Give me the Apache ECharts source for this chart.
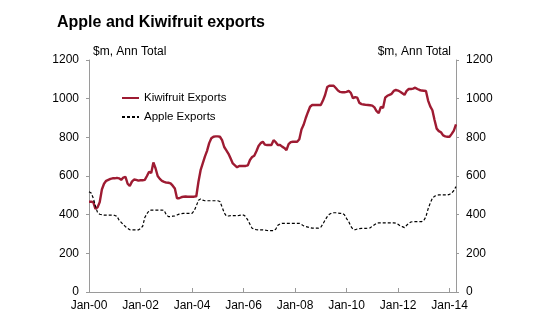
<!DOCTYPE html>
<html>
<head>
<meta charset="utf-8">
<script src="https://cdn.jsdelivr.net/npm/echarts@6/dist/echarts.min.js"></script>
<style>html,body{margin:0;padding:0;background:#fff;}#c{width:550px;height:325px;}</style>
</head>
<body>
<div id="c"></div>
<script>
// Monthly categories Jan-00 .. Apr-14
const monthNames = ['Jan','Feb','Mar','Apr','May','Jun','Jul','Aug','Sep','Oct','Nov','Dec'];
const categories = [];
for (let y = 2000; y <= 2014; y++) {
  for (let m = 0; m < 12; m++) {
    if (y === 2014 && m > 3) break;
    categories.push(monthNames[m] + '-' + String(y % 100).padStart(2, '0'));
  }
}

const kiwifruit = [
 467,467,465,430,438,465,530,560,575,580,585,588,
 588,590,588,580,592,596,560,548,571,582,580,576,
 578,578,580,600,622,615,670,640,600,585,575,570,
 566,565,562,550,535,485,485,490,493,494,493,493,
 493,493,495,570,630,665,700,730,770,795,803,805,
 805,803,785,750,733,715,690,665,655,645,652,652,
 652,652,655,683,698,705,728,755,770,777,762,760,
 760,760,785,775,760,760,752,745,734,765,775,777,
 777,777,790,840,865,900,930,958,967,967,967,967,
 967,990,1019,1060,1067,1067,1067,1055,1042,1035,1033,1033,
 1035,1040,1030,1002,1008,1005,978,972,970,968,967,966,
 964,955,935,925,958,952,1005,1015,1020,1025,1040,1045,
 1042,1036,1028,1020,1040,1050,1050,1052,1057,1050,1045,1042,
 1041,1040,990,960,940,890,845,832,826,810,805,803,
 803,818,835,867
];

const apple = [
 519,512,485,445,410,402,400,398,398,398,398,398,
 396,392,372,360,348,338,330,322,321,321,321,321,
 328,340,385,405,420,424,424,424,424,424,424,422,
 400,390,390,392,393,398,403,405,407,407,407,407,
 407,420,445,475,481,475,472,472,472,472,472,472,
 472,468,440,410,393,393,395,395,395,395,396,398,
 398,390,372,350,330,325,322,321,321,321,320,318,
 317,317,317,325,345,352,355,355,355,355,355,355,
 355,355,355,350,342,338,336,333,330,330,330,330,
 335,352,372,390,402,408,410,410,408,407,407,400,
 380,364,340,325,322,326,328,329,329,329,330,332,
 340,348,355,358,358,358,358,358,358,358,358,356,
 350,342,338,333,345,355,362,364,364,364,364,364,
 370,390,430,460,485,495,500,502,502,502,502,502,
 505,512,525,545
];

const yTicks = { min: 0, max: 1200, interval: 200 };
const axisName = '$m, Ann Total';

const FONT = 'Liberation Sans, Arial, sans-serif';
const axisColor = '#9a9a9a';

const chart = echarts.init(document.getElementById('c'), null, { renderer: 'canvas' });
const yAxisCommon = {
  type: 'value',
  min: yTicks.min, max: yTicks.max, interval: yTicks.interval,
  splitLine: { show: false },
  axisLine: { show: true, lineStyle: { color: axisColor, width: 1 } },
  axisTick: { show: true, length: 3, lineStyle: { color: axisColor } },
  axisLabel: { color: '#000', fontSize: 12, fontFamily: FONT, margin: 10, formatter: (v) => String(v) },
  name: axisName,
  nameLocation: 'end',
  nameGap: 8,
};
chart.setOption({
  animation: false,
  backgroundColor: '#fff',
  title: {
    text: 'Apple and Kiwifruit exports',
    left: 52, top: 10,
    textStyle: { fontSize: 16, fontWeight: 'bold', color: '#000', fontFamily: FONT }
  },
  legend: {
    orient: 'vertical',
    left: 116, top: 87,
    itemWidth: 17, itemHeight: 14, itemGap: 7,
    itemStyle: { opacity: 0 },
    textStyle: { fontSize: 11.5, color: '#000', fontFamily: FONT },
    data: ['Kiwifruit Exports', 'Apple Exports']
  },
  grid: { left: 89, right: 94, top: 60, bottom: 33, containLabel: false },
  xAxis: {
    type: 'category',
    data: categories,
    boundaryGap: false,
    axisLine: { lineStyle: { color: axisColor, width: 1 } },
    axisTick: { show: true, inside: true, length: 4, interval: (i) => i % 24 === 0, lineStyle: { color: axisColor } },
    axisLabel: { interval: (i) => i % 24 === 0, color: '#000', fontSize: 12, fontFamily: FONT, margin: 8 },
    splitLine: { show: false }
  },
  yAxis: [
    Object.assign({}, yAxisCommon, {
      position: 'left',
      nameTextStyle: { align: 'left', verticalAlign: 'middle', color: '#000', fontSize: 12, fontFamily: FONT, padding: [0, 0, 0, 4] }
    }),
    Object.assign({}, yAxisCommon, {
      position: 'right',
      nameTextStyle: { align: 'right', verticalAlign: 'middle', color: '#000', fontSize: 12, fontFamily: FONT, padding: [0, 5, 0, 0] }
    })
  ],
  series: [
    {
      name: 'Kiwifruit Exports', type: 'line', data: kiwifruit, yAxisIndex: 0,
      symbol: 'none', smooth: false,
      lineStyle: { color: '#9E1B32', width: 2.4 },
      itemStyle: { color: '#9E1B32' }
    },
    {
      name: 'Apple Exports', type: 'line', data: apple, yAxisIndex: 0,
      symbol: 'none', smooth: false,
      lineStyle: { color: '#000', width: 1.2, type: [3, 2] },
      itemStyle: { color: '#000' }
    }
  ]
});
</script>
</body>
</html>
